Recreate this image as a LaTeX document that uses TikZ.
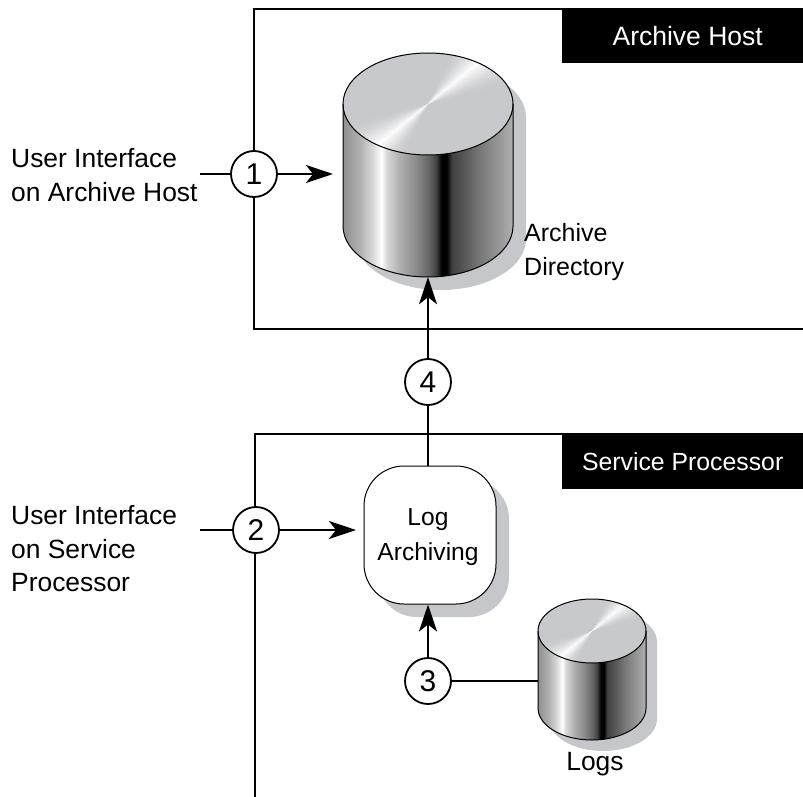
\documentclass[tikz,border=0pt]{standalone}
\usepackage{fontspec}
\setmainfont{Liberation Sans}
\usetikzlibrary{arrows.meta}
\definecolor{shadowgray}{HTML}{C6C7CB}
\definecolor{topgray}{HTML}{C8C9CC}
\pgfdeclarehorizontalshading{metal}{100bp}{
 color(0bp)=(black!44);
 color(25bp)=(black!44);
 color(29.9bp)=(black!31);
 color(33.9bp)=(black!14);
 color(36.3bp)=(black!0);
 color(37.8bp)=(black!15);
 color(41.7bp)=(black!31);
 color(46.6bp)=(black!46);
 color(50.6bp)=(black!62);
 color(52.5bp)=(black!75);
 color(54bp)=(black!100);
 color(55.5bp)=(black!100);
 color(57bp)=(black!75);
 color(59.4bp)=(black!69);
 color(65.3bp)=(black!53);
 color(70.3bp)=(black!42);
 color(75bp)=(black!31);
 color(100bp)=(black!31)
}
% #1 cx, #2 top-ellipse cy, #3 rx, #4 ry, #5 height, #6 shadow offset, #7 name
\newcommand{\metaldisk}[7]{%
 \fill[shadowgray,shift={(#6,#6)}]
   (#1-#3,#2) -- (#1-#3,#2+#5) arc[start angle=180,end angle=0,x radius=#3,y radius=#4]
   -- (#1+#3,#2) arc[start angle=0,end angle=-180,x radius=#3,y radius=#4] -- cycle;
 \path[shading=metal,shading angle=0]
   (#1-#3,#2) -- (#1-#3,#2+#5) arc[start angle=180,end angle=0,x radius=#3,y radius=#4]
   -- (#1+#3,#2) arc[start angle=0,end angle=-180,x radius=#3,y radius=#4] -- cycle;
 \fill[topgray] (#1,#2) ellipse[x radius=#3,y radius=#4];
 \begin{scope}
  \clip (#1,#2) ellipse[x radius=#3,y radius=#4];
  \foreach \a in {-28,-26,...,28}{
   \pgfmathsetmacro{\w}{0.95*(1-abs(\a)/29)*(1-abs(\a)/29)}
   \pgfmathsetmacro{\b}{\a+38}
   \pgfmathsetmacro{\c}{\a+40.3}
   \fill[white,opacity=\w]
     (#1,#2) -- ++({2*#3*cos(\b)},{-2*#3*sin(\b)}) -- ++({2*#3*(cos(\c)-cos(\b))},{-2*#3*(sin(\c)-sin(\b))}) -- cycle;
   \fill[white,opacity=\w]
     (#1,#2) -- ++({-2*#3*cos(\b)},{2*#3*sin(\b)}) -- ++({-2*#3*(cos(\c)-cos(\b))},{2*#3*(sin(\c)-sin(\b))}) -- cycle;
  }
 \end{scope}
 \draw[diskline]
   (#1-#3,#2) -- (#1-#3,#2+#5) arc[start angle=180,end angle=0,x radius=#3,y radius=#4]
   -- (#1+#3,#2);
 \draw[diskline] (#1,#2) ellipse[x radius=#3,y radius=#4];
 \node[inner sep=0pt,minimum width=2*#3*1pt,minimum height={(2*#4+#5)*1pt}] (#7) at (#1,#2+#5/2) {};
}
\tikzset{
 x=1pt,y=-1pt,
 diskline/.style={black,line width=1pt},
 frameline/.style={black,line width=2.2pt},
 conn/.style={black,line width=2.5pt},
 arrowconn/.style={conn,-{Stealth[length=27pt,width=18pt,inset=7pt]}},
 stepcircle/.style={circle,draw=black,line width=1.8pt,fill=white,minimum size=46pt,inner sep=0pt,font=\fontsize{30}{30}\selectfont},
 label/.style={font=\fontsize{26.4}{33.5}\selectfont,align=left,inner sep=0pt,anchor=west},
 dirlabel/.style={font=\fontsize{25}{33.5}\selectfont,align=left,inner sep=0pt,anchor=west},
 clabel/.style={font=\fontsize{26.4}{33}\selectfont,align=center,inner sep=0pt},
 titlebox/.style={fill=black,text=white,minimum width=241pt,inner sep=0pt,anchor=north west},
 procbox/.style={draw=black,line width=1pt,fill=white,rounded corners=40pt,minimum width=132pt,minimum height=138pt,inner sep=0pt},
 proctext/.style={align=center,inner sep=0pt,font=\fontsize{24.6}{35}\selectfont}
}
\begin{document}
\begin{tikzpicture}
\useasboundingbox (0,0) rectangle (803,797);
% frames
\coordinate (f1a) at (803,9); \coordinate (f1b) at (254,9);
\coordinate (f1c) at (254,329); \coordinate (f1d) at (803,329);
\draw[frameline] (f1a) -- (f1b) -- (f1c) -- (f1d);
\coordinate (f2a) at (803,434); \coordinate (f2b) at (255,434); \coordinate (f2c) at (255,797);
\draw[frameline] (f2a) -- (f2b) -- (f2c);
\node[titlebox,minimum height=55pt,font=\fontsize{26.5}{30}\selectfont] (t1) at (562,8) {\hspace*{10pt}Archive Host};
\node[titlebox,minimum height=55pt,font=\fontsize{24.8}{30}\selectfont] (t2) at (562,434) {Service Processor};
% disks
\metaldisk{428}{104}{85}{51}{122}{13}{archive}
\metaldisk{592}{631}{54}{32}{77}{11}{logs}
% process
\fill[shadowgray,rounded corners=40pt] (377,479) rectangle (509,617);
\node[procbox] (proc) at (430,535) {};
\node[proctext] (proclabel) at (428,537) {Log\\Archiving};
% circles
\node[stepcircle] (c1) at (254,174) {1};
\node[stepcircle] (c2) at (256,530) {2};
\node[stepcircle] (c3) at (428,681) {3};
\node[stepcircle] (c4) at (428,382) {4};
% labels
\node[label] (lu1) at (11,175) {User Interface\\on Archive Host};
\node[label] (lu2) at (11,549) {User Interface\\on Service\\Processor};
\node[dirlabel] (ld) at (524,252) {Archive\\Directory};
\node[clabel] (ll) at (595,764) {Logs};
% connectors
\coordinate (s1) at (200,174); \coordinate (e1) at (333,174);
\coordinate (s2) at (200,530); \coordinate (e2) at (356,530);
\draw[conn] (s1) -- (c1);
\draw[arrowconn] (c1) -- (e1);
\draw[conn] (s2) -- (c2);
\draw[arrowconn] (c2) -- (e2);
\draw[conn] (c3) -- (logs.west |- c3);
\draw[arrowconn] (c3) -- (c3 |- proc.south);
\draw[conn] (proc.north -| c4) -- (c4);
\draw[arrowconn] (c4) -- (c4 |- archive.south);
\end{tikzpicture}
\end{document}
